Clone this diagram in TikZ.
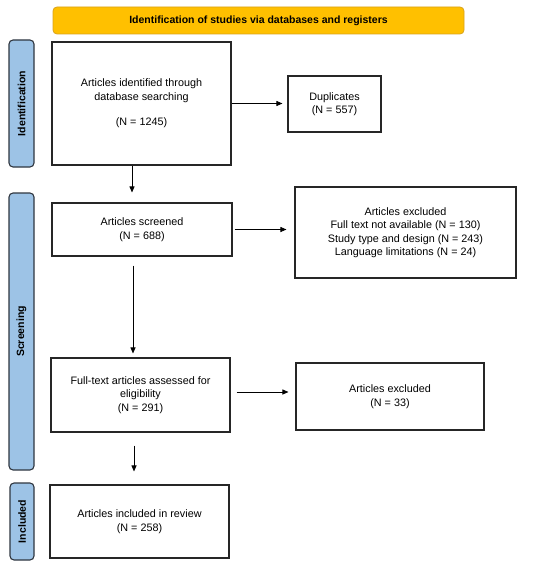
\documentclass[tikz,border=0pt]{standalone}
\usepackage{fontspec}
\setmainfont{Liberation Sans}
\usetikzlibrary{arrows.meta,calc}
\definecolor{bannerfill}{HTML}{FFC000}
\definecolor{bannerdraw}{HTML}{D9A21B}
\definecolor{sidefill}{HTML}{9DC3E6}
\definecolor{sidedraw}{HTML}{2F3640}
\tikzset{
  box/.style={draw=black!85, line width=1.1pt, fill=white, align=center,
    font=\fontsize{10.8}{13.5}\selectfont, inner sep=0pt},
  banner/.style={draw=bannerdraw, line width=0.8pt, fill=bannerfill, rounded corners=4pt,
    font=\bfseries\fontsize{10.5}{12}\selectfont, inner sep=0pt},
  side/.style={draw=sidedraw, line width=1.1pt, fill=sidefill, rounded corners=4pt,
    font=\bfseries\fontsize{10.5}{12}\selectfont, inner sep=0pt},
  flow/.style={draw=black, line width=0.9pt, -{Triangle[length=6pt,width=5pt]}}
}
\begin{document}
\begin{tikzpicture}[x=1pt,y=-1pt]
\useasboundingbox (0,0) rectangle (550,567);
\fill[white] (0,0) rectangle (550,567);

\node[banner, minimum width=411pt, minimum height=27pt] (ban) at (258.5,20.5)
  {Identification of studies via databases and registers};

\node[side, minimum width=25pt, minimum height=127pt] (s1) at (21.5,103.5) {};
\node[rotate=90, font=\bfseries\fontsize{10.5}{12}\selectfont] (s1t) at (s1.center) {Identification};
\node[side, minimum width=25pt, minimum height=277pt] (s2) at (21.5,331.5) {};
\node[rotate=90, font=\bfseries\fontsize{10.5}{12}\selectfont] (s2t) at (s2.center) {Screening};
\node[side, minimum width=24pt, minimum height=77pt] (s3) at (22,521.5) {};
\node[rotate=90, font=\bfseries\fontsize{10.5}{12}\selectfont] (s3t) at (s3.center) {Included};

\node[box, minimum width=179pt, minimum height=123pt] (b1) at (141.5,103.5)
  {Articles identified through\\database searching\\[12pt](N = 1245)};
\node[box, minimum width=93pt, minimum height=56pt] (dup) at (334.5,104)
  {Duplicates\\(N = 557)};
\node[box, minimum width=180pt, minimum height=53pt] (b2) at (142,229.5)
  {Articles screened\\(N = 688)};
\node[box, minimum width=221pt, minimum height=91pt] (x1) at (405.5,232.5)
  {Articles excluded\\Full text not available (N = 130)\\Study type and design (N = 243)\\Language limitations (N = 24)};
\node[box, minimum width=179pt, minimum height=74pt] (b3) at (140.5,395)
  {Full-text articles assessed for\\eligibility\\(N = 291)};
\node[box, minimum width=188pt, minimum height=67pt] (x2) at (390,396.5)
  {Articles excluded\\(N = 33)};
\node[box, minimum width=179pt, minimum height=73pt] (b4) at (139.5,521.5)
  {Articles included in review\\(N = 258)};

\draw[flow, shorten >=5pt] (b1.east) -- (dup.west |- b1.east);
\draw[flow, shorten <=2pt, shorten >=8pt] (b2.east) -- (x1.west |- b2.east);
\draw[flow, shorten <=6pt, shorten >=7pt] ([yshift=3pt]b3.east) -- ([yshift=3pt]b3.east -| x2.west);

\draw[flow, shorten >=10pt] ([xshift=-9.5pt]b1.south) -- ([xshift=-9.5pt]b1.south |- b2.north);
\draw[flow, shorten <=9pt, shorten >=4pt] ([xshift=-9pt]b2.south) -- ([xshift=-9pt]b2.south |- b3.north);
\draw[flow, shorten <=13pt, shorten >=13pt] ([xshift=-6.5pt]b3.south) -- ([xshift=-6.5pt]b3.south |- b4.north);
\end{tikzpicture}
\end{document}
